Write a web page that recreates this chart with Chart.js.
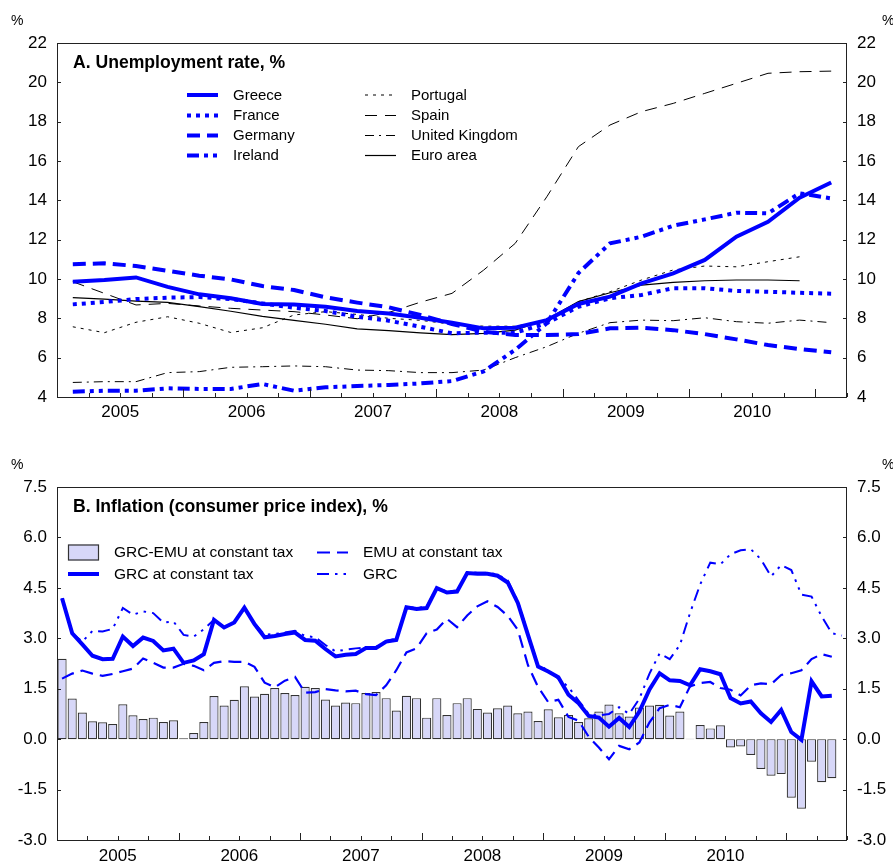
<!DOCTYPE html>
<html>
<head>
<meta charset="utf-8">
<title>Unemployment and inflation</title>
<script src="https://cdn.jsdelivr.net/npm/chart.js@4.4.1/dist/chart.umd.min.js"></script>
<style>
  html, body { margin: 0; padding: 0; background: #fff; }
  #wrap { position: relative; width: 893px; height: 863px; overflow: hidden; }
  canvas { position: absolute; left: 0; }
  #chartA { top: 0; }
  #chartB { top: 430px; }
</style>
</head>
<body>
<div id="wrap">
  <canvas id="chartA" width="893" height="430"></canvas>
  <canvas id="chartB" width="893" height="433"></canvas>
</div>
<script>
// ==================== DATA ====================
const yearLabels = ["2005", "2006", "2007", "2008", "2009", "2010"];

// Panel A: quarterly unemployment rate, %
const quarters = [
  "2005Q1", "2005Q2", "2005Q3", "2005Q4", "2006Q1", "2006Q2", "2006Q3", "2006Q4",
  "2007Q1", "2007Q2", "2007Q3", "2007Q4", "2008Q1", "2008Q2", "2008Q3", "2008Q4",
  "2009Q1", "2009Q2", "2009Q3", "2009Q4", "2010Q1", "2010Q2", "2010Q3", "2010Q4", "2011Q1"
];
const greece   = [9.86, 9.95, 10.08, 9.6, 9.22, 9.02, 8.73, 8.7, 8.59, 8.37, 8.25, 8.03, 7.78, 7.49, 7.52, 7.91, 8.73, 9.1, 9.78, 10.29, 10.97, 12.15, 12.91, 14.13, 14.91];
const france   = [8.71, 8.83, 8.98, 9.05, 9.08, 8.98, 8.76, 8.54, 8.37, 8.08, 7.88, 7.57, 7.24, 7.27, 7.27, 7.75, 8.59, 9.02, 9.19, 9.53, 9.53, 9.39, 9.35, 9.3, 9.25];
const germany  = [10.75, 10.8, 10.66, 10.42, 10.17, 9.98, 9.64, 9.44, 9.07, 8.8, 8.56, 8.17, 7.71, 7.32, 7.15, 7.15, 7.2, 7.49, 7.52, 7.4, 7.2, 6.93, 6.64, 6.44, 6.27];
const ireland  = [4.27, 4.32, 4.32, 4.44, 4.41, 4.41, 4.66, 4.32, 4.49, 4.56, 4.61, 4.69, 4.81, 5.3, 6.4, 7.75, 10.3, 11.81, 12.15, 12.71, 13.03, 13.37, 13.34, 14.36, 14.1];
const portugal = [7.57, 7.27, 7.8, 8.08, 7.75, 7.28, 7.52, 8.17, 8.34, 8.2, 8.0, 7.9, 7.7, 7.6, 7.6, 7.9, 8.85, 9.35, 9.95, 10.46, 10.66, 10.62, 10.88, 11.13, null];
const spain    = [9.86, 9.27, 8.68, 8.76, 8.63, 8.51, 8.42, 8.34, 8.17, 7.98, 8.3, 8.82, 9.27, 10.45, 11.81, 14.18, 16.73, 17.83, 18.51, 18.93, 19.44, 19.95, 20.46, 20.54, 20.57];
const uk       = [4.74, 4.78, 4.78, 5.24, 5.29, 5.51, 5.54, 5.58, 5.54, 5.37, 5.34, 5.24, 5.24, 5.37, 6.0, 6.56, 7.24, 7.78, 7.91, 7.88, 8.03, 7.83, 7.75, 7.91, 7.78];
const euroArea = [9.05, 8.98, 8.88, 8.81, 8.6, 8.36, 8.1, 7.9, 7.7, 7.46, 7.37, 7.26, 7.17, 7.24, 7.4, 7.95, 8.85, 9.3, 9.69, 9.83, 9.91, 9.95, 9.95, 9.91, null];

// Panel B: monthly inflation (consumer price index), %
const months = [
  "2005-01", "2005-02", "2005-03", "2005-04", "2005-05", "2005-06", "2005-07", "2005-08", "2005-09", "2005-10", "2005-11", "2005-12",
  "2006-01", "2006-02", "2006-03", "2006-04", "2006-05", "2006-06", "2006-07", "2006-08", "2006-09", "2006-10", "2006-11", "2006-12",
  "2007-01", "2007-02", "2007-03", "2007-04", "2007-05", "2007-06", "2007-07", "2007-08", "2007-09", "2007-10", "2007-11", "2007-12",
  "2008-01", "2008-02", "2008-03", "2008-04", "2008-05", "2008-06", "2008-07", "2008-08", "2008-09", "2008-10", "2008-11", "2008-12",
  "2009-01", "2009-02", "2009-03", "2009-04", "2009-05", "2009-06", "2009-07", "2009-08", "2009-09", "2009-10", "2009-11", "2009-12",
  "2010-01", "2010-02", "2010-03", "2010-04", "2010-05", "2010-06", "2010-07", "2010-08", "2010-09", "2010-10", "2010-11", "2010-12",
  "2011-01", "2011-02", "2011-03", "2011-04", "2011-05", "2011-06"
];
const grcEmuGap = [
  2.39, 1.21, 0.79, 0.53, 0.5, 0.45, 1.04, 0.71, 0.6, 0.64, 0.51, 0.56,
  0.03, 0.18, 0.51, 1.28, 1.0, 1.17, 1.57, 1.27, 1.35, 1.52, 1.37, 1.31,
  1.56, 1.52, 1.18, 1.0, 1.09, 1.07, 1.37, 1.4, 1.22, 0.85, 1.29, 1.22,
  0.64, 1.22, 0.72, 1.07, 1.22, 0.9, 0.79, 0.92, 1.0, 0.77, 0.82, 0.54,
  0.89, 0.65, 0.72, 0.51, 0.62, 0.82, 1.03, 0.77, 0.67, 0.94, 1.0, 1.02,
  0.7, 0.82, 0.01, 0.42, 0.32, 0.41, -0.25, -0.22, -0.47, -0.89, -1.09, -1.04,
  -1.74, -2.07, -0.67, -1.28, -1.16, null
];
const grcConstTax = [
  4.19, 3.15, 2.82, 2.48, 2.38, 2.39, 3.05, 2.77, 3.02, 2.92, 2.64, 2.69,
  2.27, 2.34, 2.53, 3.55, 3.32, 3.47, 3.91, 3.42, 3.03, 3.07, 3.13, 3.17,
  2.95, 2.93, 2.68, 2.46, 2.51, 2.53, 2.71, 2.71, 2.9, 2.95, 3.92, 3.87,
  3.9, 4.49, 4.36, 4.39, 4.94, 4.92, 4.92, 4.86, 4.66, 4.05, 3.1, 2.16,
  2.01, 1.84, 1.32, 1.07, 0.69, 0.64, 0.37, 0.63, 0.36, 0.82, 1.48, 1.96,
  1.75, 1.73, 1.6, 2.08, 2.02, 1.93, 1.22, 1.06, 1.12, 0.77, 0.51, 0.87,
  0.21, -0.02, 1.72, 1.27, 1.29, null
];
const emuConstTax = [
  1.8, 1.95, 2.04, 1.95, 1.88, 1.94, 2.02, 2.1, 2.4, 2.27, 2.13, 2.13,
  2.24, 2.18, 2.05, 2.27, 2.32, 2.3, 2.3, 2.15, 1.68, 1.54, 1.74, 1.85,
  1.38, 1.4, 1.49, 1.45, 1.42, 1.44, 1.34, 1.31, 1.6, 2.05, 2.58, 2.7,
  3.15, 3.26, 3.58, 3.33, 3.68, 3.95, 4.1, 3.93, 3.67, 3.25, 2.2, 1.55,
  1.1, 1.17, 0.66, 0.55, 0.07, -0.25, -0.6, -0.2, -0.3, -0.1, 0.5, 0.92,
  1.02, 0.95, 1.57, 1.67, 1.7, 1.52, 1.47, 1.3, 1.6, 1.66, 1.63, 1.91,
  1.96, 2.05, 2.38, 2.53, 2.45, null
];
const grc = [
  4.19, 3.15, 2.9, 3.22, 3.2, 3.28, 3.9, 3.7, 3.8, 3.75, 3.47, 3.5,
  3.1, 3.05, 3.27, 3.55, 3.32, 3.47, 3.91, 3.45, 3.1, 3.13, 3.17, 3.22,
  3.07, 3.03, 2.8, 2.61, 2.66, 2.7, 2.73, 2.74, 2.92, 2.99, 3.94, 3.9,
  3.94, 4.52, 4.39, 4.42, 4.97, 4.95, 4.95, 4.9, 4.72, 4.1, 3.15, 2.2,
  2.05, 1.8, 1.55, 1.15, 0.75, 0.7, 0.75, 0.95, 0.75, 1.2, 1.95, 2.55,
  2.38, 2.8, 3.75, 4.6, 5.25, 5.2, 5.5, 5.62, 5.65, 5.35, 4.84, 5.18,
  5.03, 4.3, 4.24, 3.65, 3.15, 3.08
];

// ==================== STYLE ====================
const FONT = "'Liberation Sans', Arial, Helvetica, sans-serif";
const BLUE = "#0000FF";
const INK = "#000";
const FRAME = "#222";

// frame, inward tick marks, year labels, title and legend
const panelDecor = {
  id: "panelDecor",
  afterDraw(chart, args, o) {
    const { ctx, chartArea: a, scales } = chart;
    const x = scales.x, y = scales.y;
    const n = chart.data.labels.length;
    ctx.save();
    ctx.setLineDash([]);
    ctx.strokeStyle = FRAME;
    ctx.lineWidth = 1;
    ctx.strokeRect(Math.round(a.left) + 0.5, Math.round(a.top) + 0.5,
      Math.round(a.right - a.left) - 1, Math.round(a.bottom - a.top));

    ctx.beginPath();
    y.ticks.forEach(t => {
      const py = Math.round(y.getPixelForValue(t.value)) + 0.5;
      ctx.moveTo(a.left, py); ctx.lineTo(a.left + 4, py);
      ctx.moveTo(a.right - 4, py); ctx.lineTo(a.right, py);
    });
    for (let k = 0; k <= n; k += o.minorStep) {
      const px = Math.round(x.getPixelForValue(k - 0.5)) + 0.5;
      const len = k % o.majorStep === 0 ? o.majorLen : 4;
      ctx.moveTo(px, a.bottom); ctx.lineTo(px, a.bottom - len);
    }
    ctx.stroke();

    ctx.fillStyle = INK;
    ctx.textBaseline = "middle";
    ctx.textAlign = "center";
    ctx.font = `17px ${FONT}`;
    o.years.forEach((yr, j) => {
      const px = x.getPixelForValue(j * o.majorStep + o.majorStep / 2 - 0.5);
      ctx.fillText(yr, px, o.yearY);
    });

    ctx.textAlign = "left";
    ctx.font = `14px ${FONT}`;
    ctx.fillText("%", 11, o.pctY);
    ctx.fillText("%", 882, o.pctY);

    ctx.font = `bold 17.6px ${FONT}`;
    ctx.fillText(o.title, 73, o.titleY);

    ctx.font = `${o.legendSize}px ${FONT}`;
    o.legend.forEach(item => {
      const ds = chart.data.datasets[item.ds];
      if (ds.type === "bar") {
        ctx.fillStyle = ds.backgroundColor;
        ctx.fillRect(item.x, item.y - 8, 31, 16);
        ctx.strokeStyle = ds.borderColor;
        ctx.lineWidth = 1.2;
        ctx.setLineDash([]);
        ctx.strokeRect(item.x + 0.5, item.y - 7.5, 30, 15);
      } else {
        ctx.strokeStyle = ds.borderColor;
        ctx.lineWidth = ds.borderWidth;
        ctx.setLineDash(ds.borderDash || []);
        ctx.beginPath();
        ctx.moveTo(item.x, item.y);
        ctx.lineTo(item.x + 31, item.y);
        ctx.stroke();
      }
      ctx.fillStyle = INK;
      ctx.fillText(ds.label, item.x + 46, item.y + 0.5);
    });
    ctx.restore();
  }
};

function yAxis(position, min, max, step, width, fmt) {
  return {
    position, min, max,
    ticks: { stepSize: step, color: INK, padding: 10, font: { family: FONT, size: 17 }, callback: fmt },
    grid: { display: false, drawTicks: false },
    border: { display: false },
    afterFit: s => { s.width = width; }
  };
}

const common = {
  responsive: false,
  devicePixelRatio: 1,
  animation: false,
  elements: { point: { radius: 0 }, line: { tension: 0, fill: false } }
};

// ==================== PANEL A ====================
new Chart(document.getElementById("chartA"), {
  type: "line",
  data: {
    labels: quarters,
    datasets: [
      { label: "Greece", data: greece, borderColor: BLUE, borderWidth: 4 },
      { label: "France", data: france, borderColor: BLUE, borderWidth: 4, borderDash: [4, 5] },
      { label: "Germany", data: germany, borderColor: BLUE, borderWidth: 4, borderDash: [13, 7] },
      { label: "Ireland", data: ireland, borderColor: BLUE, borderWidth: 4, borderDash: [12, 5, 4, 5, 4, 5] },
      { label: "Portugal", data: portugal, borderColor: INK, borderWidth: 1, borderDash: [3, 5] },
      { label: "Spain", data: spain, borderColor: INK, borderWidth: 1, borderDash: [12, 8] },
      { label: "United Kingdom", data: uk, borderColor: INK, borderWidth: 1, borderDash: [9, 5, 2, 5] },
      { label: "Euro area", data: euroArea, borderColor: INK, borderWidth: 1.2 }
    ]
  },
  options: {
    ...common,
    layout: { padding: { top: 43, bottom: 33, left: 0, right: 0 } },
    scales: {
      x: { display: false, offset: true },
      y: yAxis("left", 4, 22, 2, 57),
      y2: yAxis("right", 4, 22, 2, 46)
    },
    plugins: {
      legend: { display: false },
      tooltip: { enabled: false },
      panelDecor: {
        title: "A. Unemployment rate, %", titleY: 63, pctY: 21, yearY: 412,
        years: yearLabels, minorStep: 1, majorStep: 4, majorLen: 8, legendSize: 15,
        legend: [
          { ds: 0, x: 187, y: 95 }, { ds: 1, x: 187, y: 115.5 },
          { ds: 2, x: 187, y: 135.5 }, { ds: 3, x: 187, y: 155.5 },
          { ds: 4, x: 365, y: 95 }, { ds: 5, x: 365, y: 115.5 },
          { ds: 6, x: 365, y: 135.5 }, { ds: 7, x: 365, y: 155.5 }
        ]
      }
    }
  },
  plugins: [panelDecor]
});

// ==================== PANEL B ====================
const fmt1 = v => (Math.abs(v) < 1e-9 ? 0 : v).toFixed(1);

new Chart(document.getElementById("chartB"), {
  type: "bar",
  data: {
    labels: months,
    datasets: [
      { type: "bar", label: "GRC-EMU at constant tax", data: grcEmuGap, backgroundColor: "#D7D7F8",
        borderColor: "#333", borderWidth: 1.2, borderSkipped: false, barPercentage: 0.9, categoryPercentage: 1, order: 5 },
      { type: "line", label: "GRC at constant tax", data: grcConstTax, borderColor: BLUE, borderWidth: 4, order: 1 },
      { type: "line", label: "EMU at constant tax", data: emuConstTax, borderColor: BLUE, borderWidth: 2.2, borderDash: [13, 7], order: 2 },
      { type: "line", label: "GRC", data: grc, borderColor: BLUE, borderWidth: 2, borderDash: [12, 6, 2.5, 6, 2.5, 6], order: 3 }
    ]
  },
  options: {
    ...common,
    layout: { padding: { top: 57, bottom: 23, left: 0, right: 0 } },
    scales: {
      x: { display: false, offset: true },
      y: yAxis("left", -3, 7.5, 1.5, 57, fmt1),
      y2: yAxis("right", -3, 7.5, 1.5, 46, fmt1)
    },
    plugins: {
      legend: { display: false },
      tooltip: { enabled: false },
      panelDecor: {
        title: "B. Inflation (consumer price index), %", titleY: 77, pctY: 35, yearY: 426,
        years: yearLabels, minorStep: 3, majorStep: 12, majorLen: 7, legendSize: 15.5,
        legend: [
          { ds: 0, x: 68, y: 122.5 }, { ds: 1, x: 68, y: 144 },
          { ds: 2, x: 317, y: 122.5 }, { ds: 3, x: 317, y: 144 }
        ]
      }
    }
  },
  plugins: [panelDecor]
});
</script>
</body>
</html>
